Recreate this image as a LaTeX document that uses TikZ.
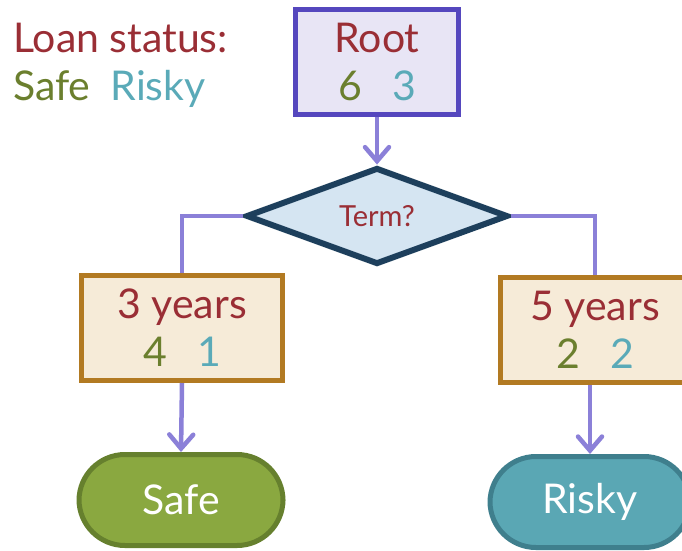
\documentclass[tikz,border=0pt]{standalone}
\usepackage{fontspec}
\setmainfont{Lato}
\usetikzlibrary{shapes.geometric,arrows.meta}

\definecolor{labelred}{HTML}{9A2E35}
\definecolor{safegreen}{HTML}{6B7F2E}
\definecolor{riskyteal}{HTML}{5AAAB8}
\definecolor{rootline}{HTML}{5547BE}
\definecolor{rootfill}{HTML}{E8E5F5}
\definecolor{linkcol}{HTML}{8B80D8}
\definecolor{qline}{HTML}{1D3F5C}
\definecolor{qfill}{HTML}{D5E5F2}
\definecolor{splitline}{HTML}{B27A22}
\definecolor{splitfill}{HTML}{F6EBD8}
\definecolor{leafgreen}{HTML}{8AA840}
\definecolor{leafgreenline}{HTML}{66802E}
\definecolor{leafteal}{HTML}{5AA7B4}
\definecolor{leaftealline}{HTML}{3F7F8D}

\newcommand{\bigtxt}{\fontsize{41}{48}\selectfont}
\newcommand{\counts}[2]{{\color{safegreen}#1}\hspace{30pt}{\color{riskyteal}#2}}

\tikzset{
  rootbox/.style={draw=rootline, fill=rootfill, line width=5pt,
    minimum width=163pt, minimum height=105pt, inner sep=0pt,
    align=center, font=\bigtxt, text=labelred},
  splitbox/.style={draw=splitline, fill=splitfill, line width=5pt,
    minimum height=105pt, inner sep=0pt,
    align=center, font=\bigtxt, text=labelred},
  question/.style={diamond, draw=qline, fill=qfill, line width=6pt,
    minimum width=262pt, minimum height=78pt, inner sep=0pt,
    font=\fontsize{29}{32}\selectfont, text=labelred},
  leaf/.style={rounded corners=46pt, line width=5pt,
    minimum height=91pt, inner sep=0pt, font=\bigtxt, text=white},
  link/.style={draw=linkcol, line width=4.5pt},
  arrowlink/.style={link, -{Straight Barb[length=14pt,width=24pt,line cap=round]}}
}

\begin{document}
\begin{tikzpicture}[x=1pt,y=-1pt]
  \useasboundingbox (0,0) rectangle (682,550);

  % legend
  \node[anchor=base west, inner sep=0pt, font=\bigtxt, text=labelred] (legendtitle) at (13,52) {Loan status:};
  \node[anchor=base west, inner sep=0pt, font=\bigtxt] (legendkeys) at (13,100)
    {{\color{safegreen}Safe}\hspace{20pt}{\color{riskyteal}Risky}};

  % tree nodes
  \node[rootbox] (root) at (377,62) {Root\\\counts{6}{3}};
  \node[question] (term) at (377,216) {Term?};
  \node[splitbox, minimum width=201pt] (three) at (182,328) {3 years\\\counts{4}{1}};
  \node[splitbox, minimum width=190pt] (five) at (595,330) {5 years\\\counts{2}{2}};
  \node[leaf, draw=leafgreenline, fill=leafgreen, minimum width=204pt] (safe) at (181,500) {Safe};
  \node[leaf, draw=leaftealline, fill=leafteal, minimum width=200pt] (risky) at (590,502) {Risky};

  % connectors
  \draw[arrowlink] (root.south) -- (term.north);
  \draw[link] (term.west) -| (three.north);
  \draw[link] (term.east) -| (five.north);
  \draw[arrowlink] (three.south) -- (safe.north);
  \draw[arrowlink] (five.south -| risky.north) -- (risky.north);
\end{tikzpicture}
\end{document}
